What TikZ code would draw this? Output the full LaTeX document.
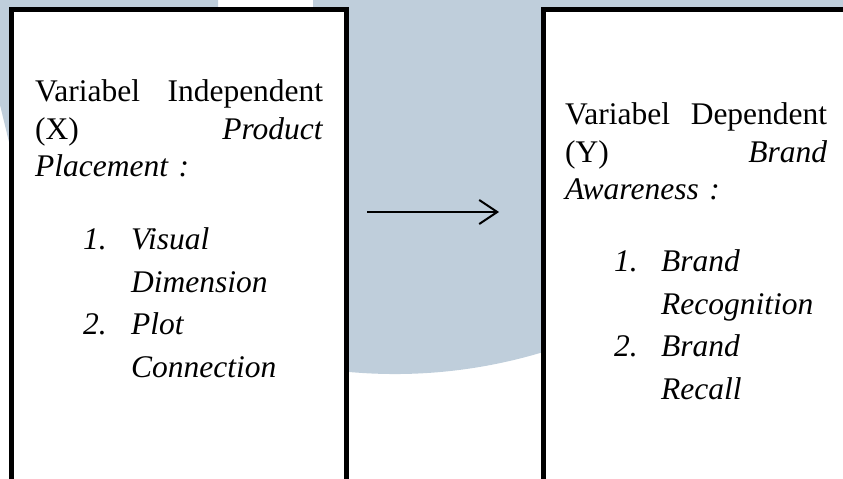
\documentclass[tikz,border=0pt]{standalone}
\usepackage{fontspec}
\setmainfont{Liberation Serif}
\usepackage{xcolor}
\usetikzlibrary{arrows.meta}

\definecolor{wmblue}{RGB}{191,206,219}

\tikzset{
  varbox/.style={draw, line width=5pt, fill=white, outer sep=0pt,
    minimum height=510pt, anchor=north west},
  para/.style={anchor=base west, inner sep=0pt, align=left,
    font=\fontsize{31.5}{37.5}\selectfont},
  item/.style={anchor=base west, inner sep=0pt, align=left, text width=200pt,
    font=\fontsize{31.5}{42.5}\selectfont\itshape},
  flow/.style={line width=2pt, -{Straight Barb[length=18pt,width=24pt]}}
}

\begin{document}
\begin{tikzpicture}[x=1pt, y=1pt]
  \useasboundingbox (0,0) rectangle (843,479);
  \clip (0,0) rectangle (843,479);

  % light shape behind the boxes
  \fill[wmblue] (0,479) -- (218,479) -- (218,471) -- (313,471) -- (313,479)
    -- (843,479) -- (843,126) -- (540,126)
    arc[start angle=-73.5, end angle=-112.4, radius=511]
    -- (9,337) -- (0,374) -- cycle;

  % the two variable boxes
  \node[varbox, minimum width=335pt] (indep) at (11.5,469) {};
  \node[varbox, minimum width=360pt] (dep) at (543,469) {};

  % independent variable
  \node[para, text width=288pt] (xhead) at ([shift={(23.5,-92)}]indep.north west)
    {Variabel\hfill Independent\\ (X)\hfill \textit{Product}\\ \textit{Placement :}};
  \node[item, text width=40pt] (xone) at ([shift={(71.5,-240)}]indep.north west) {1.};
  \node[item] (xvis) at ([shift={(119.5,-240)}]indep.north west) {Visual\\ Dimension};
  \node[item, text width=40pt] (xtwo) at ([shift={(71.5,-325)}]indep.north west) {2.};
  \node[item] (xplot) at ([shift={(119.5,-325)}]indep.north west) {Plot\\ Connection};

  % dependent variable
  \node[para, text width=262pt] (yhead) at ([shift={(22,-115)}]dep.north west)
    {Variabel\hfill Dependent\\ (Y)\hfill \textit{Brand}\\ \textit{Awareness :}};
  \node[item, text width=40pt] (yone) at ([shift={(71,-262)}]dep.north west) {1.};
  \node[item] (yrec) at ([shift={(118,-262)}]dep.north west) {Brand\\ Recognition};
  \node[item, text width=40pt] (ytwo) at ([shift={(71,-347)}]dep.north west) {2.};
  \node[item] (ycall) at ([shift={(118,-347)}]dep.north west) {Brand\\ Recall};

  \draw[flow, shorten <=20.5pt, shorten >=44pt]
    ([yshift=53pt]indep.east) -- ([yshift=53pt]dep.west);
\end{tikzpicture}
\end{document}
